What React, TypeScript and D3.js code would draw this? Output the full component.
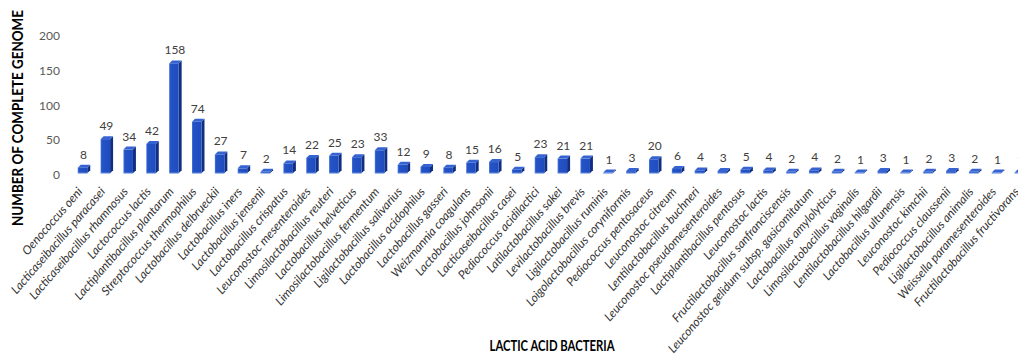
import React from "react";
import * as d3 from "d3";

const categories: string[] = [
  "Oenococcus oeni",
  "Lacticaseibacillus paracasei",
  "Lacticaseibacillus rhamnosus",
  "Lactococcus lactis",
  "Lactiplantibacillus plantarum",
  "Streptococcus thermophilus",
  "Lactobacillus delbrueckii",
  "Lactobacillus iners",
  "Lactobacillus jensenii",
  "Lactobacillus crispatus",
  "Leuconostoc mesenteroides",
  "Limosilactobacillus reuteri",
  "Lactobacillus helveticus",
  "Limosilactobacillus fermentum",
  "Ligilactobacillus salivarius",
  "Lactobacillus acidophilus",
  "Lactobacillus gasseri",
  "Weizmannia coagulans",
  "Lactobacillus johnsonii",
  "Lacticaseibacillus casei",
  "Pediococcus acidilactici",
  "Latilactobacillus sakei",
  "Levilactobacillus brevis",
  "Ligilactobacillus ruminis",
  "Loigolactobacillus coryniformis",
  "Pediococcus pentosaceus",
  "Leuconostoc citreum",
  "Lentilactobacillus buchneri",
  "Leuconostoc pseudomesenteroides",
  "Lactiplantibacillus pentosus",
  "Leuconostoc lactis",
  "Fructilactobacillus sanfranciscensis",
  "Leuconostoc gelidum subsp. gasicomitatum",
  "Lactobacillus amylolyticus",
  "Limosilactobacillus vaginalis",
  "Lentilactobacillus hilgardii",
  "Lactobacillus ultunensis",
  "Leuconostoc kimchii",
  "Pediococcus claussenii",
  "Ligilactobacillus animalis",
  "Weissella paramesenteroides",
  "Fructilactobacillus fructivorans",
];

const genomes: number[] = [
  8, 49, 34, 42, 158, 74, 27, 7, 2, 14, 22, 25, 23, 33, 12, 9, 8, 15, 16, 5,
  23, 21, 21, 1, 3, 20, 6, 4, 3, 5, 4, 2, 4, 2, 1, 3, 1, 2, 3, 2, 1, 1,
];

const yTicks: number[] = [0, 50, 100, 150, 200];

const yTitle = "NUMBER OF COMPLETE GENOME";
const xTitle = "LACTIC ACID BACTERIA";

const W = 1018;
const H = 354;

export default function App() {
  const step = 22.85;
  const x = d3
    .scaleBand<string>()
    .domain(categories)
    .range([82.5 - step / 2, 82.5 - step / 2 + step * categories.length])
    .paddingInner(0.585)
    .paddingOuter(0.2925);
  const y = d3.scaleLinear().domain([0, 200]).range([173.2, 34.2]);
  const yLab = d3.scaleLinear().domain([0, 200]).range([175, 36]);
  const bw = x.bandwidth();
  const d = 3;
  const base = y(0);

  return (
    <svg width={W} height={H} style={{ position: "absolute", left: 0, top: 0, background: "#fff" }}>
      <defs>
        <linearGradient id="front" x1="0" x2="1" y1="0" y2="0">
          <stop offset="0" stopColor="#4a78dc" />
          <stop offset="0.15" stopColor="#2553c6" />
          <stop offset="1" stopColor="#1f4cbd" />
        </linearGradient>
      </defs>
      <rect x={0} y={0} width={W} height={H} fill="#fff" />
      {yTicks.map((t) => (
        <text
          key={t}
          x={60}
          y={yLab(t)}
          dy="0.35em"
          textAnchor="end"
          fontFamily="Lato, 'Open Sans', sans-serif"
          fontSize={12}
          fill="#595959"
        >
          {t}
        </text>
      ))}
      {categories.map((c, i) => {
        const v = genomes[i];
        const x0 = x(c)!;
        const top = y(v);
        const h = base - top;
        const side = `${x0 + bw},${top} ${x0 + bw + d},${top - d} ${x0 + bw + d},${base - d} ${x0 + bw},${base}`;
        const topFace = `${x0},${top} ${x0 + d},${top - d} ${x0 + bw + d},${top - d} ${x0 + bw},${top}`;
        return (
          <g key={c}>
            <polygon points={side} fill="#112f82" />
            <rect x={x0} y={top} width={bw} height={Math.max(h, 0.6)} fill="url(#front)" />
            <polygon points={topFace} fill="#3563d2" />
            <line x1={x0} x2={x0 + bw} y1={base} y2={base} stroke="#8fb0ee" strokeWidth={1} />
            <text
              x={x0 + bw / 2 + 1}
              y={top - d - 6}
              textAnchor="middle"
              fontFamily="Lato, 'Open Sans', sans-serif"
              fontSize={12}
              fill="#404040"
            >
              {v}
            </text>
          </g>
        );
      })}
      {categories.map((c) => {
        const cx = x(c)! + bw / 2;
        return (
          <text
            key={c}
            transform={`translate(${cx + 0.5},${192}) rotate(-49)`}
            textAnchor="end"
            fontFamily="Lato, 'Open Sans', sans-serif"
            fontStyle="italic"
            fontSize={12}
            fill="#333"
          >
            {c}
          </text>
        );
      })}
      <text
        transform={`translate(23,118) rotate(-90)`}
        textAnchor="middle"
        fontFamily="Lato, 'Open Sans', sans-serif"
        fontWeight="bold"
        fontSize={14.5}
        textLength={216}
        lengthAdjust="spacingAndGlyphs"
        fill="#000"
      >
        {yTitle}
      </text>
      <text
        x={552}
        y={351}
        textAnchor="middle"
        fontFamily="Lato, 'Open Sans', sans-serif"
        fontWeight="bold"
        fontSize={14.5}
        textLength={125}
        lengthAdjust="spacingAndGlyphs"
        fill="#000"
      >
        {xTitle}
      </text>
    </svg>
  );
}
